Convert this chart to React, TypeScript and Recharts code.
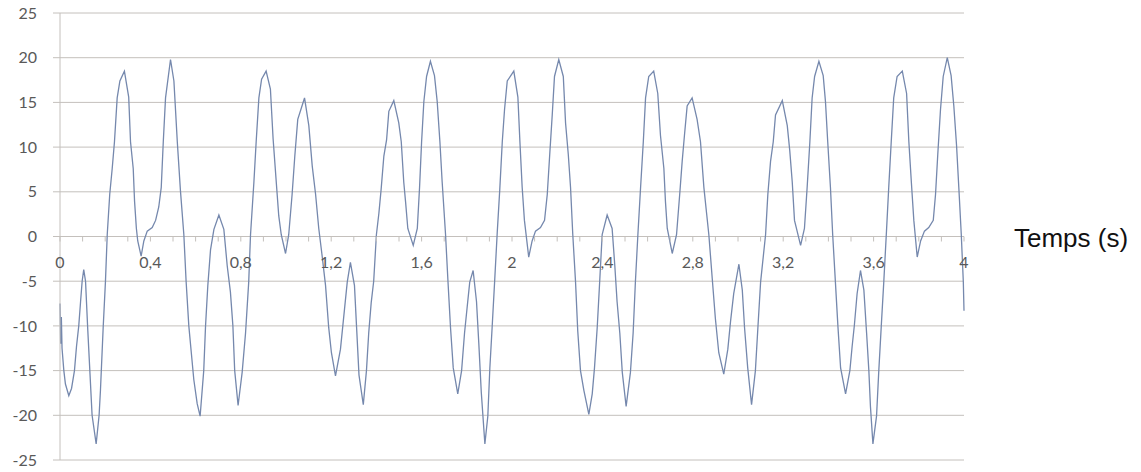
import {
  CartesianGrid,
  Line,
  LineChart,
  ReferenceLine,
  XAxis,
  YAxis,
} from "recharts";

// time (s) and signal values
const times = [
  0, 0.003, 0.006, 0.009, 0.017, 0.024, 0.039, 0.051, 0.064, 0.073, 0.083, 0.091, 0.098, 0.105,
  0.113, 0.123, 0.132, 0.142, 0.16, 0.173, 0.179, 0.191, 0.201, 0.209, 0.22, 0.231, 0.241, 0.253,
  0.265, 0.285, 0.304, 0.312, 0.324, 0.33, 0.338, 0.344, 0.359, 0.371, 0.386, 0.408, 0.423, 0.437,
  0.448, 0.457, 0.467, 0.489, 0.504, 0.519, 0.533, 0.548, 0.558, 0.57, 0.581, 0.592, 0.607, 0.62,
  0.636, 0.644, 0.654, 0.666, 0.681, 0.703, 0.725, 0.74, 0.754, 0.765, 0.773, 0.788, 0.806, 0.821,
  0.835, 0.843, 0.858, 0.868, 0.88, 0.892, 0.912, 0.931, 0.943, 0.958, 0.968, 0.979, 0.998, 1.012,
  1.027, 1.039, 1.052, 1.082, 1.101, 1.116, 1.131, 1.145, 1.16, 1.175, 1.189, 1.201, 1.219, 1.241,
  1.259, 1.271, 1.285, 1.303, 1.313, 1.323, 1.342, 1.356, 1.366, 1.377, 1.388, 1.4, 1.411, 1.421,
  1.433, 1.445, 1.455, 1.477, 1.499, 1.51, 1.521, 1.529, 1.539, 1.563, 1.581, 1.591, 1.6, 1.61,
  1.622, 1.639, 1.657, 1.669, 1.681, 1.691, 1.706, 1.716, 1.728, 1.74, 1.76, 1.777, 1.79, 1.802,
  1.813, 1.828, 1.843, 1.853, 1.864, 1.88, 1.893, 1.902, 1.912, 1.923, 1.935, 1.946, 1.957, 1.967,
  1.979, 2.008, 2.026, 2.035, 2.045, 2.055, 2.074, 2.089, 2.104, 2.126, 2.144, 2.156, 2.167, 2.178,
  2.188, 2.207, 2.227, 2.237, 2.249, 2.259, 2.269, 2.281, 2.291, 2.303, 2.318, 2.34, 2.355, 2.365,
  2.377, 2.387, 2.399, 2.421, 2.443, 2.455, 2.465, 2.477, 2.488, 2.505, 2.524, 2.536, 2.546, 2.557,
  2.569, 2.581, 2.591, 2.605, 2.627, 2.645, 2.657, 2.672, 2.679, 2.687, 2.709, 2.728, 2.742, 2.753,
  2.763, 2.775, 2.797, 2.819, 2.834, 2.849, 2.861, 2.871, 2.886, 2.9, 2.915, 2.937, 2.955, 2.967,
  2.981, 3.004, 3.019, 3.029, 3.043, 3.06, 3.077, 3.088, 3.1, 3.122, 3.132, 3.144, 3.156, 3.166,
  3.196, 3.218, 3.229, 3.24, 3.25, 3.277, 3.294, 3.306, 3.318, 3.328, 3.339, 3.358, 3.377, 3.387,
  3.397, 3.409, 3.419, 3.431, 3.442, 3.454, 3.476, 3.495, 3.505, 3.515, 3.527, 3.542, 3.557, 3.569,
  3.579, 3.586, 3.597, 3.613, 3.623, 3.634, 3.645, 3.657, 3.667, 3.678, 3.689, 3.704, 3.727, 3.746,
  3.756, 3.767, 3.778, 3.793, 3.808, 3.825, 3.844, 3.864, 3.874, 3.884, 3.896, 3.908, 3.926, 3.943,
  3.955, 3.967, 3.977, 3.988, 3.997, 4,
];

const values = [
  -7.5, -12, -9, -12.5, -15, -16.5, -17.8, -17, -15, -12.3, -10, -7.3, -5, -3.7,
  -5, -10.5, -15, -20, -23.2, -20, -17.2, -10.2, -5.1, 0.2, 4.7, 7.6, 10.6, 15.5,
  17.4, 18.5, 15.6, 10.6, 7.6, 3.9, 0.9, -0.5, -2.2, -0.5, 0.6, 1, 1.8, 3.3,
  5.5, 10.6, 15.5, 19.8, 17.4, 10.6, 5.1, 0.2, -5, -10, -13, -16, -18.7, -20.1,
  -15, -10, -5.5, -1.5, 0.8, 2.4, 0.8, -3.3, -6.2, -10, -15, -18.9, -15.2, -10.8,
  -5.1, 0.2, 6.1, 10.6, 15.5, 17.6, 18.5, 16.5, 10.9, 5.7, 2.3, 0.2, -1.9, 0.2,
  4.7, 9, 13.1, 15.5, 12.4, 7.9, 4.7, 0.9, -2.2, -5.5, -10.2, -13, -15.6, -12.6,
  -8.1, -5.1, -2.9, -5.5, -10.5, -15.5, -18.8, -15, -10.8, -7.4, -5, 0.2, 2.6, 5.3,
  9, 10.8, 14, 15.2, 12.7, 10.6, 6.1, 3.9, 0.9, -1, 0.9, 5.5, 10.6, 15.1,
  17.9, 19.6, 18, 15.1, 10.6, 6.1, 0.2, -4.7, -10.2, -14.7, -17.6, -15, -10.8, -7.8,
  -5.1, -3.8, -7.3, -11.9, -17.4, -23.2, -20.1, -14.7, -10.2, -5.1, 0.6, 5.3, 10.6, 14.2,
  17.4, 18.5, 15.6, 10.6, 5.5, 1.8, -2.3, -0.5, 0.6, 1, 1.8, 4.7, 9.2, 13.6,
  17.9, 19.8, 17.9, 12.7, 9.2, 5.5, 0.2, -5, -10.6, -15, -17.2, -19.9, -17.6, -14.7,
  -10.2, -5.5, 0.2, 2.4, 0.9, -3.3, -7.3, -10.8, -15.2, -19, -15.2, -10.8, -5.1, 0.2,
  5.5, 10.6, 15.5, 17.9, 18.5, 16, 11.3, 7.6, 3.9, 0.9, -1.9, 0.2, 4.7, 8.4,
  11.3, 14.6, 15.5, 13.1, 10.6, 5.5, 2.6, 0.2, -4.7, -9.2, -13, -15.4, -12.6, -9.5,
  -6.4, -3.1, -6, -10.2, -14.7, -18.8, -15, -10.2, -5.1, 0.2, 4.7, 8.4, 10.6, 13.6,
  15.2, 12.4, 9.6, 6.1, 1.8, -1, 0.9, 5.5, 10.6, 15.5, 17.9, 19.6, 18, 15.1,
  10.6, 5.5, 0.2, -5.1, -10, -14.7, -17.6, -15, -12.3, -9.9, -6.4, -3.8, -6, -10.8,
  -15, -19, -23.2, -20.1, -15, -10, -5.1, 0.6, 5.5, 10.6, 15.5, 17.9, 18.5, 16,
  10.6, 6.1, 1.8, -2.3, -0.5, 0.6, 1, 1.8, 4.7, 9.2, 14.2, 17.9, 20, 18,
  14.6, 10.2, 5.5, 0.2, -5.1, -8.3,
];

const yTicks = [-25, -20, -15, -10, -5, 0, 5, 10, 15, 20, 25];
const xTicks = [
  0, 0.1, 0.2, 0.3, 0.4, 0.5, 0.6, 0.7, 0.8, 0.9, 1, 1.1, 1.2, 1.3, 1.4, 1.5, 1.6, 1.7, 1.8, 1.9, 2,
  2.1, 2.2, 2.3, 2.4, 2.5, 2.6, 2.7, 2.8, 2.9, 3, 3.1, 3.2, 3.3, 3.4, 3.5, 3.6, 3.7, 3.8, 3.9, 4,
];
const xLabelTicks = [0, 0.4, 0.8, 1.2, 1.6, 2, 2.4, 2.8, 3.2, 3.6, 4];
const axisTitle = "Temps (s)";

const W = 1141;
const H = 472;
const margin = { top: 13, right: 177, bottom: 10, left: 0 };
const xAxisH = 2;
const plotH = H - margin.top - margin.bottom - xAxisH;
// y pixel of the value 0 (domain is symmetric)
const zeroY = margin.top + plotH / 2;

const gridColor = "#c4c0bc";
const labelStyle = { fill: "#595959", fontSize: 16, fontFamily: "Lato" };

function TimeTick(props: any) {
  const { x, payload } = props;
  const v = payload.value;
  const labelled = xLabelTicks.some((l) => Math.abs(l - v) < 1e-6);
  return (
    <g>
      <line x1={x} x2={x} y1={zeroY} y2={zeroY + 5} stroke={gridColor} />
      {labelled && (
        <text x={x} y={zeroY + 31} textAnchor="middle" {...labelStyle}>
          {String(v).replace(".", ",")}
        </text>
      )}
    </g>
  );
}

export default function App() {
  const data = times.map((t, i) => ({ t, v: values[i] }));

  return (
    <div style={{ position: "absolute", left: 0, top: 0, width: W, height: H, background: "#fff" }}>
      <LineChart width={W} height={H} data={data} margin={margin}>
        <CartesianGrid vertical={false} stroke={gridColor} />
        <XAxis
          dataKey="t"
          type="number"
          domain={[0, 4]}
          ticks={xTicks}
          interval={0}
          height={xAxisH}
          axisLine={false}
          tickLine={false}
          tick={(p: any) => <TimeTick {...p} />}
        />
        <YAxis
          type="number"
          domain={[-25, 25]}
          ticks={yTicks}
          interval={0}
          width={60}
          tickSize={7}
          tickMargin={16}
          axisLine={{ stroke: gridColor }}
          tickLine={{ stroke: gridColor }}
          tick={labelStyle}
        />
        <ReferenceLine y={0} stroke={gridColor} />
        <Line
          type="linear"
          dataKey="v"
          stroke="#7588ad"
          strokeWidth={1.3}
          dot={false}
          isAnimationActive={false}
        />
        <text
          x={1014}
          y={247}
          fontFamily="Liberation Sans, Arial, sans-serif"
          fontSize={26}
          fill="#111"
        >
          {axisTitle}
        </text>
      </LineChart>
    </div>
  );
}
